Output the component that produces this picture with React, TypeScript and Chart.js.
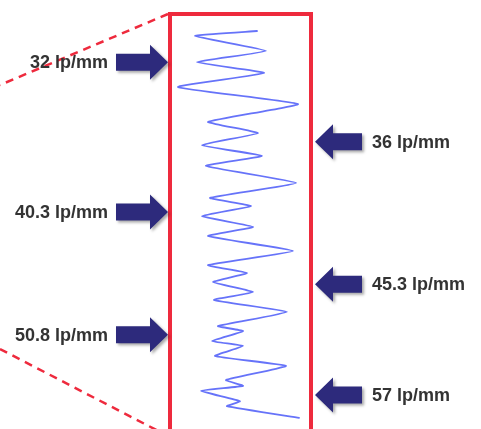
import React, { useEffect, useRef } from "react";
import { Chart, registerables } from "chart.js";

Chart.register(...registerables);

// Zig-zag trace: x = horizontal position (0-100 across the box), y = position down the box (0-100)
const traceX = [61.7, 17.7, 68.1, 19.1, 66.7, 5.7, 90.8, 27.0, 62.4, 22.7, 65.2, 25.5, 89.4, 28.4, 57.4, 22.7, 58.9, 27.0, 87.2, 27.0, 54.6, 30.5, 58.9, 31.2, 83.0, 34.0, 51.8, 29.8, 51.8, 31.9, 82.3, 39.7, 51.8, 22.0, 49.6, 40.4, 91.5];
const traceY = [4.1, 5.3, 8.9, 11.6, 14.2, 17.6, 21.7, 26.0, 28.7, 31.6, 34.2, 36.6, 40.7, 44.3, 46.3, 48.7, 51.3, 53.5, 57.1, 60.5, 62.4, 64.6, 67.0, 68.9, 71.8, 75.2, 76.4, 78.8, 80.0, 82.4, 84.8, 88.2, 89.6, 90.8, 93.3, 94.5, 97.3];

// Resolution markers
const markerLabels = ["32 lp/mm", "36 lp/mm", "40.3 lp/mm", "45.3 lp/mm", "50.8 lp/mm", "57 lp/mm"];
const markerY = [11.6, 30.8, 47.7, 65.1, 77.3, 91.8];
const markerSide = ["left", "right", "left", "right", "left", "right"];

const RED = "#ee2a3d";
const NAVY = "#2d2a7c";

const decorPlugin = {
  id: "decor",
  afterDraw(chart: any) {
    const { ctx, chartArea } = chart;
    const ys = chart.scales.y;
    const { left, right, top } = chartArea;
    const H = chart.height;
    ctx.save();
    // red frame (open at bottom)
    ctx.strokeStyle = RED;
    ctx.lineWidth = 4;
    ctx.beginPath();
    ctx.moveTo(left, H + 5);
    ctx.lineTo(left, top);
    ctx.lineTo(right, top);
    ctx.lineTo(right, H + 5);
    ctx.stroke();
    // dashed zoom lines
    ctx.lineWidth = 2.5;
    ctx.setLineDash([8, 6]);
    ctx.beginPath();
    ctx.moveTo(left - 2, top);
    ctx.lineTo(0, top + 71);
    ctx.stroke();
    ctx.beginPath();
    ctx.moveTo(0, top + 335);
    ctx.lineTo(left - 2, top + 422);
    ctx.stroke();
    ctx.setLineDash([]);

    // arrows + labels
    markerY.forEach((v, i) => {
      const y = ys.getPixelForValue(v);
      const side = markerSide[i];
      const dir = side === "left" ? 1 : -1;
      const tip = side === "left" ? left - 2 : right + 4;
      const headLen = 18;
      const bodyLen = side === "left" ? 34 : 29;
      const headH = 17.5;
      const bodyH = 8.5;
      ctx.save();
      ctx.shadowColor = "rgba(0,0,0,0.35)";
      ctx.shadowBlur = 3;
      ctx.shadowOffsetX = 2;
      ctx.shadowOffsetY = 2;
      ctx.fillStyle = NAVY;
      ctx.beginPath();
      ctx.moveTo(tip, y);
      ctx.lineTo(tip - dir * headLen, y - headH);
      ctx.lineTo(tip - dir * headLen, y - bodyH);
      ctx.lineTo(tip - dir * (headLen + bodyLen), y - bodyH);
      ctx.lineTo(tip - dir * (headLen + bodyLen), y + bodyH);
      ctx.lineTo(tip - dir * headLen, y + bodyH);
      ctx.lineTo(tip - dir * headLen, y + headH);
      ctx.closePath();
      ctx.fill();
      ctx.restore();

      ctx.fillStyle = "#333333";
      ctx.font = "bold 18px 'Liberation Sans', Arial, sans-serif";
      ctx.textBaseline = "middle";
      if (side === "left") {
        ctx.textAlign = "right";
        ctx.fillText(markerLabels[i], tip - (headLen + bodyLen) - 8, y + 1);
      } else {
        ctx.textAlign = "left";
        ctx.fillText(markerLabels[i], tip + headLen + bodyLen + 10, y + 1);
      }
    });
    ctx.restore();
  },
};

export default function App() {
  const ref = useRef<HTMLCanvasElement | null>(null);
  useEffect(() => {
    document.body.style.margin = "0";
    const canvas = ref.current!;
    const chart = new Chart(canvas, {
      type: "scatter",
      data: {
        datasets: [
          {
            data: traceX.map((x, i) => ({ x, y: traceY[i] })),
            showLine: true,
            borderColor: "rgba(75,90,248,0.85)",
            borderWidth: 1.8,
            borderJoinStyle: "round",
            borderCapStyle: "round",
            pointRadius: 0,
            tension: 0.12,
          },
        ],
      },
      options: {
        animation: false,
        responsive: false,
        layout: { padding: { left: 170, right: 170, top: 14, bottom: 0 } },
        plugins: { legend: { display: false }, tooltip: { enabled: false } },
        scales: {
          x: { type: "linear", min: 0, max: 100, display: false },
          y: { type: "linear", min: 0, max: 100, reverse: true, display: false },
        },
      },
      plugins: [decorPlugin],
    });
    return () => chart.destroy();
  }, []);
  return (
    <div style={{ width: 481, height: 429, background: "#fff" }}>
      <canvas ref={ref} width={481} height={429} />
    </div>
  );
}
